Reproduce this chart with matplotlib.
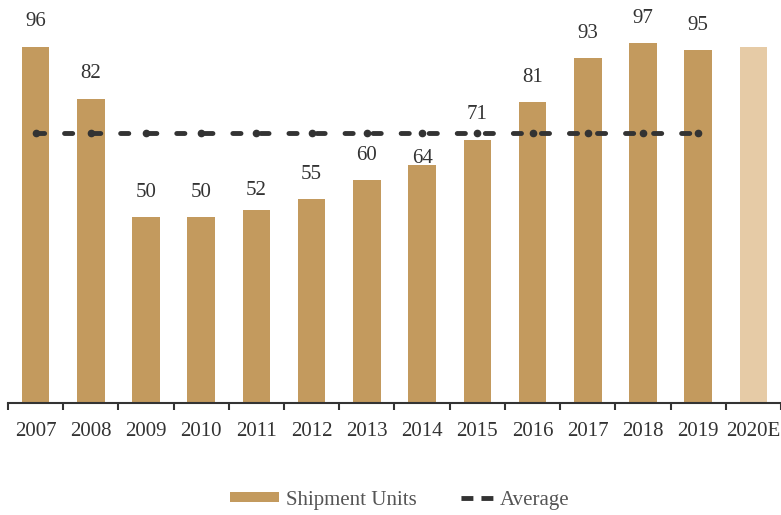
import numpy as np
import matplotlib
matplotlib.use("Agg")
import matplotlib.pyplot as plt
from matplotlib.lines import Line2D
from matplotlib.patches import Patch

years = ["2007", "2008", "2009", "2010", "2011", "2012", "2013",
         "2014", "2015", "2016", "2017", "2018", "2019", "2020E"]
shipments = [96, 82, 50, 50, 52, 55, 60, 64, 71, 81, 93, 97, 95, 96]
labelled = [True] * 13 + [False]

BAR = "#C39A5E"
BAR_EST = "#E6CBA6"
DARK = "#333333"
LW = 3.5

plt.rcParams["font.family"] = ["Liberation Serif", "DejaVu Serif"]

fig = plt.figure(figsize=(7.81, 5.15), dpi=100)
ax = fig.add_axes([0.0102, 0.2175, 0.9898, 0.7825])

x = np.arange(len(years))
colors = [BAR] * (len(years) - 1) + [BAR_EST]
ax.bar(x, shipments, width=0.5, color=colors, zorder=2)

# label offsets (points above the bar top); a few are nudged to clear the line
label_offset = {"2011": 7.5, "2014": -2.0}
for yr, xi, v, show in zip(years, x, shipments, labelled):
    if show:
        ax.annotate(f"{v}", (xi, v), xytext=(0, label_offset.get(yr, 11)),
                    textcoords="offset points", ha="center", va="bottom",
                    fontsize=15, color=DARK, zorder=4)

# historical average over actual years (excluding the estimate)
n_hist = 13
avg = float(np.mean(shipments[:n_hist]))
ax.plot(x[:n_hist], [avg] * n_hist, color=DARK, lw=LW, dashes=(1.68, 4.09),
        dash_capstyle="round", marker="o", markersize=4.5, zorder=3)

ax.set_xlim(-0.5, len(years) - 0.5)
ax.set_ylim(0, 108.6)
ax.set_yticks([])
for s in ("left", "right", "top"):
    ax.spines[s].set_visible(False)
ax.spines["bottom"].set_color(DARK)
ax.spines["bottom"].set_linewidth(1.5)

ax.set_xticks(x)
ax.set_xticklabels(years, fontsize=15, color=DARK)
ax.set_xticks(np.arange(-0.5, len(years) + 0.5), minor=True)
ax.tick_params(axis="x", which="major", length=0, pad=13.5)
ax.tick_params(axis="x", which="minor", length=5, width=1.5, color=DARK)

# legend: thin bar swatch, and a two-dash sample for the average
seg = 8.6 / LW
small_gap = 5.8 / LW
lead_gap = 12.2 / LW
avg_handle = Line2D([], [], color=DARK, lw=LW,
                    linestyle=(seg + small_gap + seg,
                               (seg, small_gap, seg, lead_gap)))
handles = [Patch(facecolor=BAR, edgecolor="none"), avg_handle]
leg = fig.legend(handles, ["Shipment Units", "Average"], loc="center",
                 bbox_to_anchor=(0.512, 0.029), ncol=2, frameon=False,
                 fontsize=15, handlelength=2.36, handleheight=0.35,
                 columnspacing=1.35, handletextpad=0.3)
for t in leg.get_texts():
    t.set_color("#555555")

fig.savefig("out.png", dpi=100)
